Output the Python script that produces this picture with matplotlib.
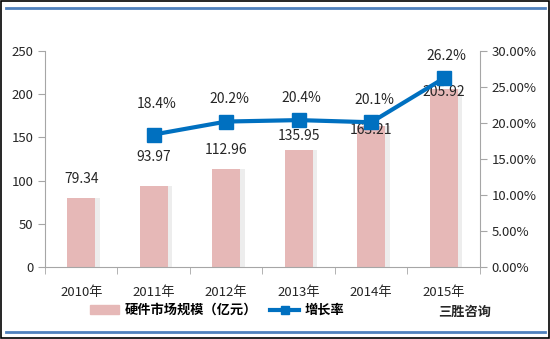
import numpy as np
import matplotlib
matplotlib.use("Agg")
import matplotlib.pyplot as plt
from matplotlib.lines import Line2D
from matplotlib.patches import Patch, Rectangle

plt.rcParams['font.family'] = ['Noto Sans CJK SC', 'DejaVu Sans']

years = ["2010年", "2011年", "2012年", "2013年", "2014年", "2015年"]
market = [79.34, 93.97, 112.96, 135.95, 163.21, 205.92]
growth_years = ["2011年", "2012年", "2013年", "2014年", "2015年"]
growth = [18.4, 20.2, 20.4, 20.1, 26.2]

# label offsets in points (hand placed like the original sheet)
bar_lbl_off = [9, 16, 9, 5, -8, -7]
line_lbl_off = [17, 11, 11, 11, 11]

bar_color = "#E6B8B7"
line_color = "#0070C0"
axis_grey = "#A6A6A6"
txt = "#262626"

fig = plt.figure(figsize=(5.5, 3.39), dpi=100)
ax = fig.add_axes([0.0818, 0.2124, 0.7909, 0.6372])
ax2 = ax.twinx()

x = np.arange(len(years))
xg = np.array([years.index(y) for y in growth_years])

# soft shadow around each bar
ax.bar(x + 0.03, market, width=0.45, color="#EDEDED", zorder=1)
ax.bar(x, market, width=0.39, color=bar_color, zorder=2)
for xi, v, off in zip(x, market, bar_lbl_off):
    ax.annotate(f"{v:.2f}", (xi, v), xytext=(0, off), textcoords="offset points",
                ha="center", va="bottom", fontsize=10, color=txt, zorder=5)

ax2.plot(xg, growth, color=line_color, lw=3, marker="s", ms=9.5, zorder=4)
for xi, v, off in zip(xg, growth, line_lbl_off):
    ax2.annotate(f"{v:.1f}%", (xi, v), xytext=(2, off), textcoords="offset points",
                 ha="center", va="bottom", fontsize=10, color=txt)

ax.set_xlim(-0.5, len(years) - 0.5)
ax.set_ylim(0, 250)
ax.set_yticks(np.arange(0, 251, 50))
ax2.set_ylim(0, 30)
ax2.set_yticks(np.arange(0, 31, 5))
ax2.set_yticklabels([f"{t:.2f}%" for t in np.arange(0, 31, 5)])
ax2.set_zorder(ax.get_zorder() + 1)
ax2.patch.set_visible(False)

ax.set_xticks(x)
ax.set_xticklabels(years)
ax.set_xticks(np.arange(-0.5, len(years)), minor=True)
ax.tick_params(axis="x", which="major", length=0, pad=14, labelsize=9.5, colors=txt)
ax.tick_params(axis="x", which="minor", length=5, color=axis_grey)
ax.tick_params(axis="y", length=5, color=axis_grey, labelsize=9.5, labelcolor=txt)
ax2.tick_params(axis="y", length=5, color=axis_grey, labelsize=9.5, labelcolor=txt)

for a in (ax, ax2):
    a.spines["top"].set_visible(False)
    for s in ("left", "right", "bottom"):
        a.spines[s].set_color(axis_grey)
ax.spines["right"].set_visible(False)
ax2.spines["left"].set_visible(False)
ax2.spines["bottom"].set_visible(False)

handles = [Patch(color=bar_color),
           Line2D([], [], color=line_color, lw=3, marker="s", ms=6)]
fig.legend(handles, ["硬件市场规模（亿元）", "增长率"], loc="center",
           bbox_to_anchor=(0.395, 0.085), ncol=2, frameon=False,
           handlelength=2.2, columnspacing=1.0, handletextpad=0.4,
           prop={"weight": "bold", "size": 9.5})
fig.text(0.845, 0.08, "三胜咨询", ha="center", va="center", fontsize=9.5,
         fontweight="bold", color=txt)

# frame and blue rules
fig.add_artist(Line2D([0.01, 0.99], [0.976, 0.976], color="#4F81BD", lw=2,
                      transform=fig.transFigure))
fig.add_artist(Line2D([0.01, 0.99], [0.022, 0.022], color="#4F81BD", lw=2,
                      transform=fig.transFigure))
fig.add_artist(Rectangle((0.001, 0.002), 0.997, 0.995, fill=False, ec="black",
                         lw=1.2, transform=fig.transFigure))

fig.savefig("out.png", dpi=100)
